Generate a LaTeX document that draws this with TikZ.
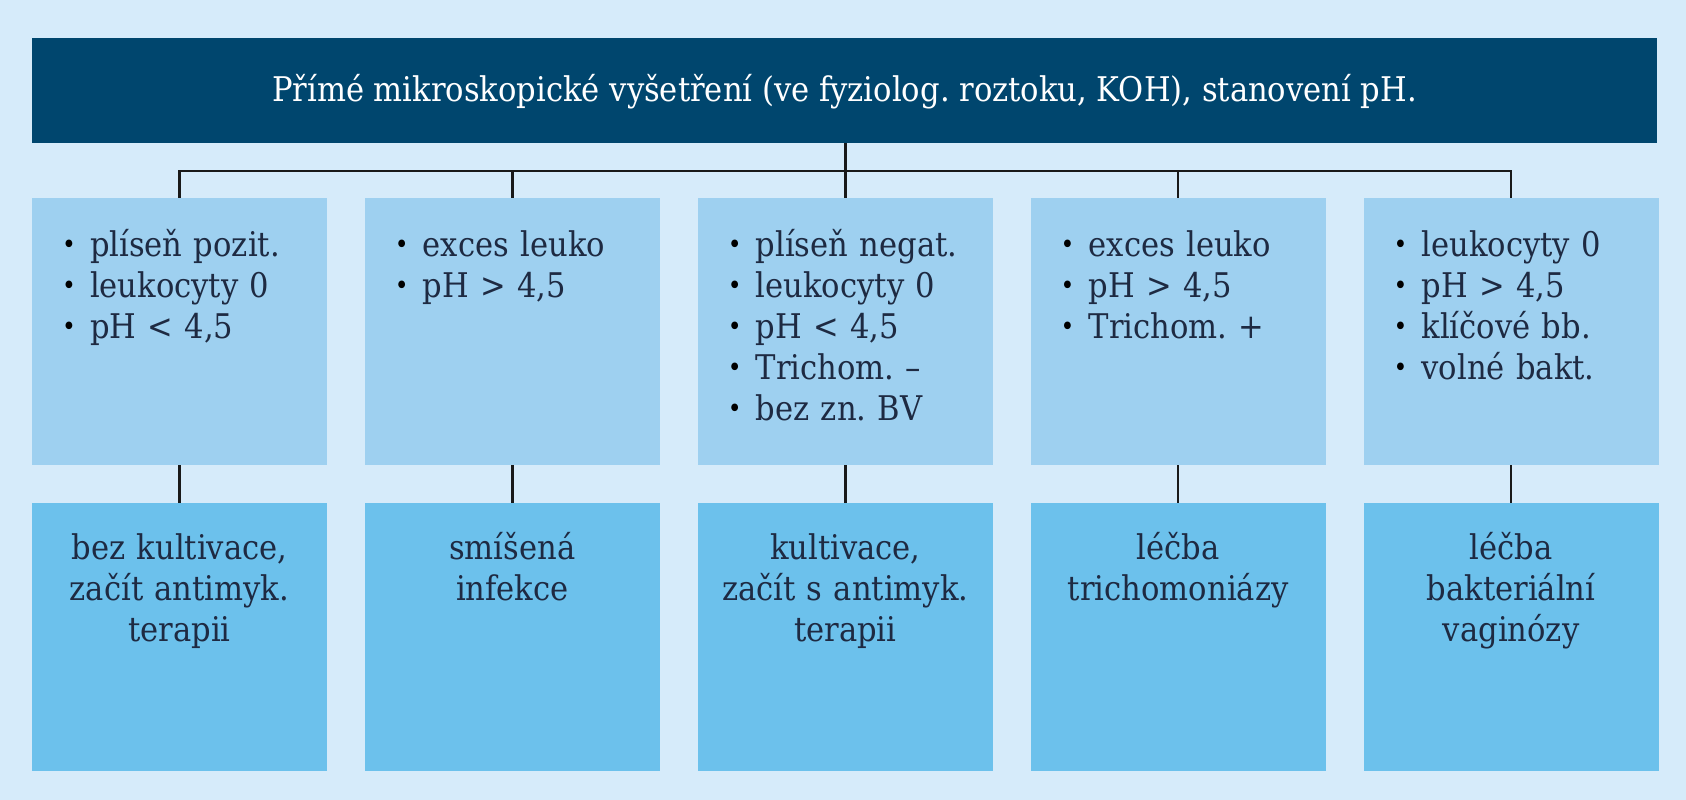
\documentclass[tikz,border=0pt]{standalone}
\usepackage{fontspec}
\setmainfont{DejaVu Serif Condensed}
\usepackage{tikz}
\usetikzlibrary{positioning}
\definecolor{bgblue}{RGB}{214,235,250}
\definecolor{hdrblue}{RGB}{0,70,110}
\definecolor{midblue}{RGB}{158,208,240}
\definecolor{lowblue}{RGB}{108,193,236}
\definecolor{txtblue}{RGB}{30,42,66}
\newcommand{\itm}[1]{\makebox[28pt][l]{\raisebox{2.8pt}{\fontsize{26}{26}\selectfont\textcolor{black}{•}}}#1}
\frenchspacing

\begin{document}
\begin{tikzpicture}[x=1pt,y=1pt,
    node distance=38pt and 37.5pt,
    hdrbox/.style={fill=hdrblue,minimum width=1625pt,minimum height=105pt,inner sep=0pt},
    midbox/.style={fill=midblue,minimum width=295pt,minimum height=267pt,inner sep=0pt},
    lowbox/.style={fill=lowblue,minimum width=295pt,minimum height=268pt,inner sep=0pt},
    bullets/.style={anchor=base west,align=left,text width=262pt,inner sep=0pt,text=txtblue,font=\fontsize{34}{41}\selectfont},
    result/.style={anchor=base,align=center,text width=292pt,inner sep=0pt,text=txtblue,font=\fontsize{34}{41}\selectfont},
    conn/.style={draw=black!90,line width=2.5pt}]
      \fill[bgblue] (0,0) rectangle (1686,800);
      \useasboundingbox (0,0) rectangle (1686,800);

      \node[hdrbox](hdr) at (844.5,709.5){};
      \node[text=white,anchor=base,font=\fontsize{34}{40}\selectfont](hdrtxt) at ([yshift=-11.5pt]hdr.center){Přímé mikroskopické vyšetření (ve fyziolog. roztoku, KOH), stanovení pH.};

      \node[midbox](m1) at (179.5,468.5){};
      \node[midbox,right=of m1](m2){};
      \node[midbox,right=of m2](m3){};
      \node[midbox,right=of m3](m4){};
      \node[midbox,right=of m4](m5){};

      \node[lowbox,below=of m1](b1){};
      \node[lowbox,below=of m2](b2){};
      \node[lowbox,below=of m3](b3){};
      \node[lowbox,below=of m4](b4){};
      \node[lowbox,below=of m5](b5){};

      \node[bullets] (t1) at ([xshift=30pt,yshift=-59pt]m1.north west){\itm{plíseň pozit.}\\\itm{leukocyty 0}\\\itm{pH < 4,5}};
      \node[bullets] (t2) at ([xshift=30pt,yshift=-59pt]m2.north west){\itm{exces leuko}\\\itm{pH > 4,5}};
      \node[bullets] (t3) at ([xshift=30pt,yshift=-59pt]m3.north west){\itm{plíseň negat.}\\\itm{leukocyty 0}\\\itm{pH < 4,5}\\\itm{Trichom. –}\\\itm{bez zn. BV}};
      \node[bullets] (t4) at ([xshift=30pt,yshift=-59pt]m4.north west){\itm{exces leuko}\\\itm{pH > 4,5}\\\itm{Trichom. +}};
      \node[bullets] (t5) at ([xshift=30pt,yshift=-59pt]m5.north west){\itm{leukocyty 0}\\\itm{pH > 4,5}\\\itm{klíčové bb.}\\\itm{volné bakt.}};

      \node[result] (r1) at ([yshift=-56pt]b1.north){bez kultivace,\\začít antimyk.\\terapii};
      \node[result] (r2) at ([yshift=-56pt]b2.north){smíšená\\infekce};
      \node[result] (r3) at ([yshift=-56pt]b3.north){kultivace,\\začít s antimyk.\\terapii};
      \node[result] (r4) at ([yshift=-56pt]b4.north){léčba\\trichomoniázy};
      \node[result] (r5) at ([yshift=-56pt]b5.north){léčba\\bakteriální\\vaginózy};

      \coordinate (bus) at (846,629);
      \draw[conn] (m3.north |- hdr.south) -- (m3.north);
      \draw[conn] (m1.north) |- (bus) -| (m5.north);
      \draw[conn] (m2.north) -- (m2.north |- bus);
      \draw[conn] (m4.north) -- (m4.north |- bus);
      \draw[conn] (m1.south) -- (b1.north);
      \draw[conn] (m2.south) -- (b2.north);
      \draw[conn] (m3.south) -- (b3.north);
      \draw[conn] (m4.south) -- (b4.north);
      \draw[conn] (m5.south) -- (b5.north);
    \end{tikzpicture}
\end{document}
